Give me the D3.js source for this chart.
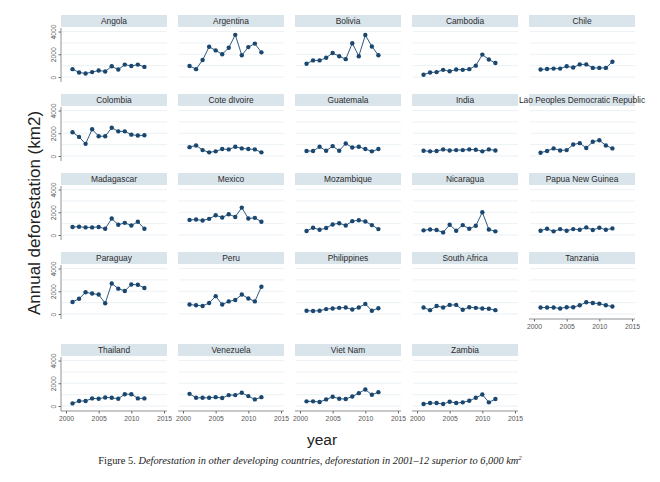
<!DOCTYPE html>
<html>
<head>
<meta charset="utf-8">
<script src="https://cdn.jsdelivr.net/npm/d3@7/dist/d3.min.js"></script>
<style>
  html, body { margin: 0; padding: 0; background: #fff; }
  svg { display: block; }
</style>
</head>
<body>
<svg id="chart" width="660" height="482"></svg>
<script>
// ---- data ----
const years = [2001, 2002, 2003, 2004, 2005, 2006, 2007, 2008, 2009, 2010, 2011, 2012];
const countries = ["Angola", "Argentina", "Bolivia", "Cambodia", "Chile",
  "Colombia", "Cote dIvoire", "Guatemala", "India", "Lao Peoples Democratic Republic",
  "Madagascar", "Mexico", "Mozambique", "Nicaragua", "Papua New Guinea",
  "Paraguay", "Peru", "Philippines", "South Africa", "Tanzania",
  "Thailand", "Venezuela", "Viet Nam", "Zambia"];
const angola     = [690, 400, 310, 430, 570, 490, 940, 660, 1090, 970, 1090, 890];
const argentina  = [970, 690, 1490, 2660, 2340, 2000, 2570, 3710, 1910, 2630, 2940, 2170];
const bolivia    = [1170, 1460, 1460, 1690, 2110, 1830, 1570, 2970, 1830, 3690, 2690, 1910];
const cambodia   = [200, 400, 430, 630, 510, 660, 630, 690, 1000, 1970, 1540, 1230];
const chile      = [660, 710, 740, 740, 940, 830, 1110, 1110, 800, 800, 800, 1340];
const colombia   = [2090, 1680, 1070, 2350, 1740, 1740, 2490, 2170, 2170, 1880, 1800, 1830];
const coteDivoire= [780, 930, 520, 320, 410, 610, 580, 810, 670, 610, 580, 320];
const guatemala  = [440, 440, 810, 460, 870, 460, 1100, 750, 810, 610, 410, 610];
const india      = [460, 410, 440, 580, 490, 520, 520, 580, 550, 410, 580, 490];
const lao        = [290, 440, 670, 490, 520, 1010, 1130, 700, 1250, 1390, 930, 670];
const madagascar = [700, 730, 670, 670, 700, 550, 1450, 900, 1070, 840, 1160, 550];
const mexico     = [1330, 1360, 1280, 1420, 1740, 1540, 1830, 1590, 2410, 1450, 1510, 1160];
const mozambique = [350, 640, 460, 610, 930, 1040, 840, 1220, 1300, 1190, 870, 520];
const nicaragua  = [410, 490, 440, 230, 900, 380, 870, 550, 810, 2000, 490, 320];
const papua      = [380, 550, 320, 520, 380, 520, 460, 670, 440, 640, 460, 580];
const paraguay   = [1060, 1340, 1910, 1800, 1710, 940, 2690, 2230, 2030, 2600, 2570, 2290];
const peru       = [830, 770, 710, 970, 1570, 830, 1110, 1230, 1710, 1370, 1110, 2400];
const philippines= [290, 260, 290, 430, 490, 540, 570, 400, 570, 890, 290, 510];
const southAfrica= [570, 340, 710, 570, 800, 800, 370, 600, 540, 490, 460, 340];
const tanzania   = [570, 570, 570, 490, 600, 600, 770, 1030, 970, 910, 770, 660];
const thailand   = [230, 440, 440, 670, 640, 750, 720, 640, 1040, 1040, 670, 670];
const venezuela  = [1070, 720, 720, 720, 780, 700, 960, 960, 1160, 870, 580, 780];
const vietNam    = [410, 410, 350, 580, 810, 640, 610, 840, 1130, 1450, 990, 1220];
const zambia     = [170, 260, 260, 170, 380, 260, 320, 460, 720, 1010, 320, 610];
const seriesValues = [angola, argentina, bolivia, cambodia, chile,
  colombia, coteDivoire, guatemala, india, lao,
  madagascar, mexico, mozambique, nicaragua, papua,
  paraguay, peru, philippines, southAfrica, tanzania,
  thailand, venezuela, vietNam, zambia];
const yTicks = [0, 2000, 4000];
const yGrid = [0, 1000, 2000, 3000, 4000];
const xTicks = [2000, 2005, 2010, 2015];

// ---- layout ----
const svg = d3.select("#chart");
const colX = [61, 178, 295, 412, 529];
const rowTop = [15, 94, 173, 252, 344];
const panelW = 106, stripH = 12, plotH = 55;
const navy = "#1a476f";
const font = "'Liberation Sans', Arial, Helvetica, sans-serif";

const x = d3.scaleLinear().domain([2000, 2015]).range([5, 103]);
const y = d3.scaleLinear().domain([-440, 4400]).range([plotH, 0]);

countries.forEach((name, i) => {
  const col = i % 5, row = Math.floor(i / 5);
  const g = svg.append("g").attr("transform", `translate(${colX[col]},${rowTop[row]})`);
  // strip
  g.append("rect").attr("x", 0).attr("y", 0).attr("width", panelW).attr("height", stripH)
    .attr("fill", "#d9e4eb");
  g.append("text").attr("x", panelW / 2).attr("y", stripH / 2 + 3)
    .attr("text-anchor", "middle").attr("font-family", font).attr("font-size", "8.4px")
    .attr("fill", "#2b2b2b").text(name);

  const p = g.append("g").attr("transform", `translate(0,${stripH})`);
  // gridlines
  p.selectAll("line.grid").data(yGrid).enter().append("line")
    .attr("x1", 1).attr("x2", panelW).attr("y1", d => y(d)).attr("y2", d => y(d))
    .attr("stroke", "#e6edf2").attr("stroke-width", 0.8);

  // y axis on first column
  if (col === 0) {
    const ya = p.append("g").call(d3.axisLeft(y).tickValues(yTicks).tickFormat(d3.format("d"))
      .tickSize(2.5).tickSizeOuter(0));
    ya.select(".domain").remove();
    ya.selectAll(".tick line").attr("stroke", "#666");
    ya.selectAll(".tick text")
      .attr("x", null).attr("dy", null)
      .attr("transform", "translate(-5,0) rotate(-90)")
      .attr("text-anchor", "middle")
      .attr("font-family", font).attr("font-size", "6.8px").attr("fill", "#555");
    p.append("line").attr("x1", 0).attr("x2", 0).attr("y1", 1).attr("y2", plotH)
      .attr("stroke", "#777").attr("stroke-width", 0.8);
  }

  // x axis on bottom panels
  const hasBelow = i + 5 < countries.length;
  if (!hasBelow) {
    const xa = p.append("g").attr("transform", `translate(0,${plotH})`)
      .call(d3.axisBottom(x).tickValues(xTicks).tickFormat(d3.format("d")).tickSize(2.5).tickPadding(3));
    xa.select(".domain").remove();
    xa.selectAll(".tick line").attr("stroke", "#666");
    xa.selectAll(".tick text").attr("font-family", font).attr("font-size", "6.8px").attr("fill", "#555");
    p.append("line").attr("x1", 0).attr("x2", panelW).attr("y1", plotH).attr("y2", plotH)
      .attr("stroke", "#777").attr("stroke-width", 0.8);
  }

  const vals = seriesValues[i];
  const pts = years.map((yr, k) => [yr, vals[k]]);
  p.append("path").datum(pts)
    .attr("d", d3.line().x(d => x(d[0])).y(d => y(d[1])))
    .attr("fill", "none").attr("stroke", navy).attr("stroke-width", 0.9);
  p.selectAll("circle").data(pts).enter().append("circle")
    .attr("cx", d => x(d[0])).attr("cy", d => y(d[1])).attr("r", 2.2)
    .attr("fill", navy);
});

// axis titles
svg.append("text").attr("transform", "translate(40,213) rotate(-90)")
  .attr("text-anchor", "middle").attr("font-family", font).attr("font-size", "17px")
  .attr("fill", "#222").text("Annual deforestation (km2)");
svg.append("text").attr("x", 322).attr("y", 445)
  .attr("text-anchor", "middle").attr("font-family", font).attr("font-size", "15.5px")
  .attr("fill", "#222").text("year");

// caption
const cap = svg.append("text").attr("x", 310).attr("y", 464)
  .attr("text-anchor", "middle").attr("font-family", "'Liberation Serif', 'Times New Roman', serif")
  .attr("font-size", "10.4px").attr("fill", "#222");
cap.append("tspan").text("Figure 5.  ");
cap.append("tspan").attr("font-style", "italic")
  .text("Deforestation in other developing countries, deforestation in 2001–12 superior to 6,000 km");
cap.append("tspan").attr("font-style", "italic").attr("font-size", "6.8px").attr("dy", "-4").text("2");
</script>
</body>
</html>
